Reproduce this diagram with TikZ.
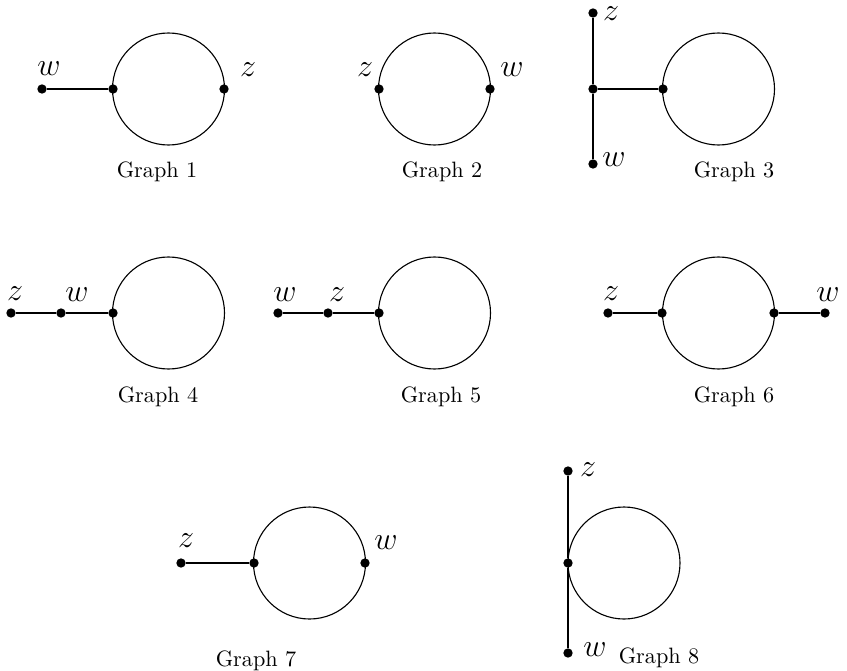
\documentclass[tikz,border=0pt]{standalone}
\begin{document}
\begin{tikzpicture}[x=0.45pt,y=-0.45pt,
  vdot/.style={circle,fill=black,inner sep=0pt,minimum size=4.2pt},
  ring/.style={circle,draw,line width=0.5pt,inner sep=0pt,minimum size=50.4pt},
  gline/.style={line width=0.55pt},
  lab/.style={inner sep=0pt,font=\Large},
  gcap/.style={anchor=base,inner sep=0pt,font=\normalsize}]
\useasboundingbox (0,0) rectangle (847,670);
% Graph 1
\node[ring] (c1) at (168.5,89) {};
\node[vdot] (w1) at (42,89) {};
\node[vdot] (a1) at (113,89) {};
\node[vdot] (z1) at (224,89) {};
\draw[gline] (w1) -- (a1);
\node[lab] (lw1) at (49,69) {$w$};
\node[lab] (lz1) at (248,70) {$z$};
\node[gcap] (t1) at (157,178) {Graph 1};
% Graph 2
\node[ring] (c2) at (434.5,89) {};
\node[vdot] (z2) at (379,89) {};
\node[vdot] (w2) at (490,89) {};
\node[lab] (lz2) at (365,70) {$z$};
\node[lab] (lw2) at (512,70) {$w$};
\node[gcap] (t2) at (442,178) {Graph 2};
% Graph 3
\node[ring] (c3) at (718.5,89) {};
\node[vdot] (z3) at (593,13) {};
\node[vdot] (m3) at (593,89) {};
\node[vdot] (w3) at (593,164) {};
\node[vdot] (a3) at (663,89) {};
\draw[gline] (z3) -- (m3) -- (w3);
\draw[gline] (m3) -- (a3);
\node[lab] (lz3) at (611,13.5) {$z$};
\node[lab] (lw3) at (614,160) {$w$};
\node[gcap] (t3) at (734,178) {Graph 3};
% Graph 4
\node[ring] (c4) at (168.5,313) {};
\node[vdot] (z4) at (11,313) {};
\node[vdot] (w4) at (61,313) {};
\node[vdot] (a4) at (113,313) {};
\draw[gline] (z4) -- (w4) -- (a4);
\node[lab] (lz4) at (15,294) {$z$};
\node[lab] (lw4) at (77,295) {$w$};
\node[gcap] (t4) at (158,402) {Graph 4};
% Graph 5
\node[ring] (c5) at (434.5,313) {};
\node[vdot] (w5) at (278,313) {};
\node[vdot] (z5) at (328,313) {};
\node[vdot] (a5) at (379,313) {};
\draw[gline] (w5) -- (z5) -- (a5);
\node[lab] (lw5) at (285,295) {$w$};
\node[lab] (lz5) at (337,295) {$z$};
\node[gcap] (t5) at (441,402) {Graph 5};
% Graph 6
\node[ring] (c6) at (718.5,313) {};
\node[vdot] (z6) at (608,313) {};
\node[vdot] (a6) at (662,313) {};
\node[vdot] (b6) at (774,313) {};
\node[vdot] (w6) at (825,313) {};
\draw[gline] (z6) -- (a6);
\draw[gline] (b6) -- (w6);
\node[lab] (lz6) at (611,294) {$z$};
\node[lab] (lw6) at (828,295) {$w$};
\node[gcap] (t6) at (734,402) {Graph 6};
% Graph 7
\node[ring] (c7) at (309.5,563) {};
\node[vdot] (z7) at (181,563) {};
\node[vdot] (a7) at (254,563) {};
\node[vdot] (w7) at (365,563) {};
\draw[gline] (z7) -- (a7);
\node[lab] (lz7) at (186,541) {$z$};
\node[lab] (lw7) at (386,543) {$w$};
\node[gcap] (t7) at (256,666) {Graph 7};
% Graph 8
\node[ring] (c8) at (624,563) {};
\node[vdot] (z8) at (568,471) {};
\node[vdot] (a8) at (568,563) {};
\node[vdot] (w8) at (568,653) {};
\draw[gline] (z8) -- (a8) -- (w8);
\node[lab] (lz8) at (588,470) {$z$};
\node[lab] (lw8) at (595,650) {$w$};
\node[gcap] (t8) at (659,663) {Graph 8};
\end{tikzpicture}
\end{document}
